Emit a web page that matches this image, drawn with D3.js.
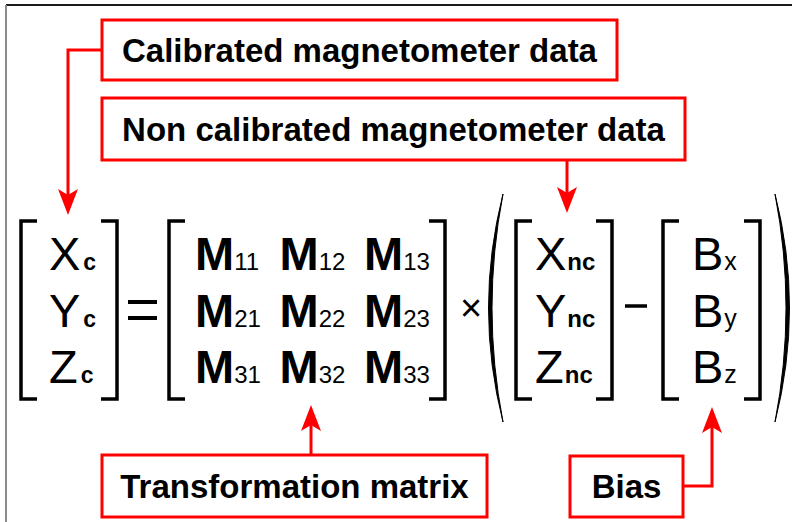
<!DOCTYPE html>
<meta charset="utf-8">
<style>
body{margin:0;background:#fff;}
text{font-family:"Liberation Sans",Arial,sans-serif;fill:#000;}
text.callout{font-size:33px;font-weight:bold;}
text.sym{font-size:47px;}
</style>
<body>
<div id="eq"></div>
<script src="https://d3js.org/d3.v7.min.js"></script>
<script>
// calibration equation: [Xc Yc Zc] = M x ([Xnc Ync Znc] - [Bx By Bz])

var width = 792, height = 522;
var red = "#ff0000";

var calVec = ["X", "Y", "Z"];
var calSub = ["c", "c", "c"];
var matRows = [["11","12","13"], ["21","22","23"], ["31","32","33"]];
var ncVec = ["X", "Y", "Z"];
var ncSub = ["nc", "nc", "nc"];
var biasVec = ["B", "B", "B"];
var biasSub = ["x", "y", "z"];
var calloutLabels = ["Calibrated magnetometer data", "Non calibrated magnetometer data", "Transformation matrix", "Bias"];

var svg = d3.select("#eq").append("svg")
	.attr("width", width).attr("height", height);

// frame (cropped page)
svg.append("line").attr("x1",6).attr("y1",5).attr("x2",width).attr("y2",5)
	.attr("stroke","#1a1a1a").attr("stroke-width",2);
svg.append("line").attr("x1",6).attr("y1",5).attr("x2",6).attr("y2",height)
	.attr("stroke","#8a8a8a").attr("stroke-width",2);

var row = d3.scalePoint().domain([0,1,2]).range([270,383]);
var col = d3.scalePoint().domain([0,1,2]).range([195,364]);

function bracket(x0, x1){
	var top = 221, bot = 399, s = 16;
	svg.append("path")
		.attr("d", "M"+(x0+s)+","+top+"H"+x0+"V"+bot+"H"+(x0+s))
		.attr("fill","none").attr("stroke","#000").attr("stroke-width",3.5);
	svg.append("path")
		.attr("d", "M"+(x1-s)+","+top+"H"+x1+"V"+bot+"H"+(x1-s))
		.attr("fill","none").attr("stroke","#000").attr("stroke-width",3.5);
}

function vector(x, bases, subs, subSize, subBold, dx){
	var t = svg.append("g").selectAll("text")
		.data(bases).enter().append("text")
		.attr("class","sym")
		.attr("x", x)
		.attr("y", function(d,i){ return row(i); });
	t.append("tspan").text(function(d){ return d; });
	t.append("tspan")
		.attr("dx", dx)
		.style("font-size", subSize + "px")
		.style("font-weight", subBold ? "bold" : "normal")
		.text(function(d,i){ return subs[i]; });
}

// left side vector
bracket(21, 117);
vector(49, calVec, calSub, 23, true, 3);

// equals
svg.selectAll(".eqbar").data([302, 318]).enter().append("line")
	.attr("class","eqbar")
	.attr("x1",128).attr("x2",157)
	.attr("y1",function(d){ return d; }).attr("y2",function(d){ return d; })
	.attr("stroke","#000").attr("stroke-width",4);

// transformation matrix
bracket(169, 445);
var mrow = svg.append("g").selectAll("g").data(matRows).enter().append("g");
var mcell = mrow.selectAll("text")
	.data(function(d){ return d; }).enter().append("text")
	.attr("class","sym")
	.attr("x", function(d,i){ return col(i); })
	.attr("y", function(d){ return row(+d[0]-1); });
mcell.append("tspan").style("font-weight","bold").text("M");
mcell.append("tspan").style("font-size","24px").text(function(d){ return d; });

// times
svg.append("text").attr("x",471).attr("y",321).attr("text-anchor","middle")
	.style("font-size","38px").text("\u00d7");

// parentheses
svg.append("path")
	.attr("d","M503,194 Q474,308 503,422 Q481,308 503,194 Z")
	.attr("fill","#000").attr("stroke","#000").attr("stroke-width",1);
svg.append("path")
	.attr("d","M775,194 Q804,308 775,422 Q797,308 775,194 Z")
	.attr("fill","#000").attr("stroke","#000").attr("stroke-width",1);

// non calibrated vector
bracket(516, 612);
vector(535, ncVec, ncSub, 24, true, 1);

// minus
svg.append("line").attr("x1",625).attr("x2",647).attr("y1",306).attr("y2",306)
	.attr("stroke","#000").attr("stroke-width",3.5);

// bias vector
bracket(663, 760);
vector(692, biasVec, biasSub, 25, false, 1);

// callouts
var boxes = [
	{x0:102, x1:617, y0:20, y1:80},
	{x0:102, x1:685, y0:98, y1:160},
	{x0:102, x1:487, y0:455, y1:517},
	{x0:570, x1:683, y0:456, y1:517}
];
var cg = svg.append("g").selectAll("g").data(calloutLabels).enter().append("g");
cg.append("rect")
	.attr("x", function(d,i){ return boxes[i].x0; })
	.attr("y", function(d,i){ return boxes[i].y0; })
	.attr("width", function(d,i){ return boxes[i].x1 - boxes[i].x0; })
	.attr("height", function(d,i){ return boxes[i].y1 - boxes[i].y0; })
	.attr("fill","#fff").attr("stroke",red).attr("stroke-width",3);
cg.append("text").attr("class","callout")
	.attr("text-anchor","middle")
	.attr("x", function(d,i){ return (boxes[i].x0 + boxes[i].x1)/2; })
	.attr("y", function(d,i){ return (boxes[i].y0 + boxes[i].y1)/2 + 11.5; })
	.text(function(d){ return d; });

// arrows
function arrowHead(x, y, dir){
	// dir: 1 = pointing down, -1 = pointing up
	var L = 26, w = 10, n = 6;
	var p = [[x, y], [x + w, y - dir*L], [x, y - dir*(L - n)], [x - w, y - dir*L]];
	svg.append("path").attr("d", "M" + p.join("L") + "Z").attr("fill", red);
}
function connector(pts, tip, dir){
	svg.append("path").attr("d", d3.line()(pts))
		.attr("fill","none").attr("stroke",red).attr("stroke-width",3);
	arrowHead(tip[0], tip[1], dir);
}
connector([[102,50],[68,50],[68,200]], [68,215], 1);
connector([[567,160],[567,198]], [567,213], 1);
connector([[311,455],[311,420]], [311,405], -1);
connector([[683,486],[712,486],[712,422]], [712,407], -1);
</script>
</body>
